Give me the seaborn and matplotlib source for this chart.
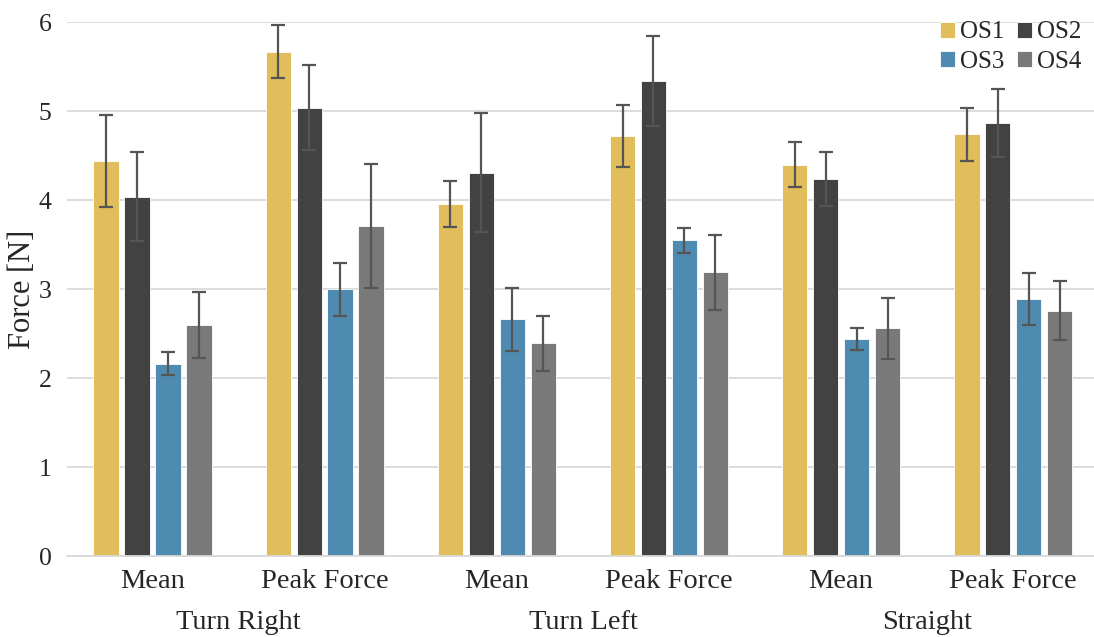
import matplotlib
matplotlib.use("Agg")
import matplotlib.pyplot as plt
import seaborn as sns
import pandas as pd
import numpy as np

conditions = ["Turn Right", "Turn Right", "Turn Left", "Turn Left", "Straight", "Straight"]
metrics = ["Mean", "Peak Force", "Mean", "Peak Force", "Mean", "Peak Force"]
series = ["OS1", "OS2", "OS3", "OS4"]

os1 = [4.44, 5.67, 3.96, 4.72, 4.40, 4.74]
os2 = [4.04, 5.04, 4.31, 5.34, 4.24, 4.87]
os3 = [2.16, 3.00, 2.66, 3.55, 2.44, 2.89]
os4 = [2.60, 3.71, 2.39, 3.19, 2.56, 2.76]

os1_err = [0.52, 0.30, 0.26, 0.35, 0.25, 0.30]
os2_err = [0.50, 0.48, 0.67, 0.51, 0.30, 0.38]
os3_err = [0.13, 0.30, 0.35, 0.14, 0.12, 0.29]
os4_err = [0.37, 0.70, 0.31, 0.42, 0.34, 0.33]

colors = ["#E2BD5C", "#424242", "#4F8AB0", "#797979"]

vals = [os1, os2, os3, os4]
errs = [os1_err, os2_err, os3_err, os4_err]
rows = []
for s, v, e in zip(series, vals, errs):
    for i in range(len(metrics)):
        rows.append({"group": f"{conditions[i]}|{metrics[i]}", "series": s, "value": v[i], "err": e[i]})
df = pd.DataFrame(rows)
order = [f"{c}|{m}" for c, m in zip(conditions, metrics)]

sns.set_style("white")
plt.rcParams["font.family"] = ["Liberation Serif", "DejaVu Serif"]

fig = plt.figure(figsize=(10.94, 6.37), dpi=100)
ax = fig.add_axes([0.061, 0.127, 0.939, 0.838])

sns.barplot(data=df, x="group", y="value", hue="series", order=order, hue_order=series,
            palette=colors, width=0.72, gap=0.17, errorbar=None, ax=ax,
            edgecolor="white", linewidth=0.6, saturation=1)

# error bars positioned at bar centres
for cont, s in zip(ax.containers, series):
    sub = df[df.series == s].set_index("group").loc[order]
    xs = [p.get_x() + p.get_width() / 2 for p in cont.patches]
    ax.errorbar(xs, sub["value"].values, yerr=sub["err"].values, fmt="none",
                ecolor="#555555", elinewidth=1.6, capsize=5, capthick=1.6, zorder=5)

ax.set_ylim(0, 6)
ax.set_xlim(-0.5, 5.47)
ax.set_yticks(range(0, 7))
ax.yaxis.grid(True, color="#d9d9d9", linewidth=1.3)
ax.set_axisbelow(True)
for sp in ["top", "right", "left"]:
    ax.spines[sp].set_visible(False)
ax.spines["bottom"].set_color("#d9d9d9")
ax.spines["bottom"].set_linewidth(1.3)
ax.tick_params(axis="y", length=0, labelsize=18.5, pad=11)
ax.tick_params(axis="x", length=0, labelsize=20.5, pad=9)
ax.set_xticks(range(len(metrics)))
ax.set_xticklabels(metrics)
ax.set_xlabel("")
ax.set_ylabel("Force [N]", fontsize=22)
ax.yaxis.set_label_coords(-0.029, 0.5)

for j, c in enumerate(conditions[::2]):
    ax.text(2 * j + 0.5, -0.75, c, ha="center", va="center", fontsize=20.5,
            transform=ax.transData, clip_on=False)

handles, labels = ax.get_legend_handles_labels()
idx = [0, 2, 1, 3]
leg = ax.legend([handles[i] for i in idx], [labels[i] for i in idx],
                loc="upper right", ncol=2, frameon=False, fontsize=18,
                handlelength=0.6, handleheight=0.6, handletextpad=0.2,
                columnspacing=0.5, labelspacing=0.3, borderaxespad=0.1,
                bbox_to_anchor=(1.0, 1.025))

fig.savefig("out.png", dpi=100)
